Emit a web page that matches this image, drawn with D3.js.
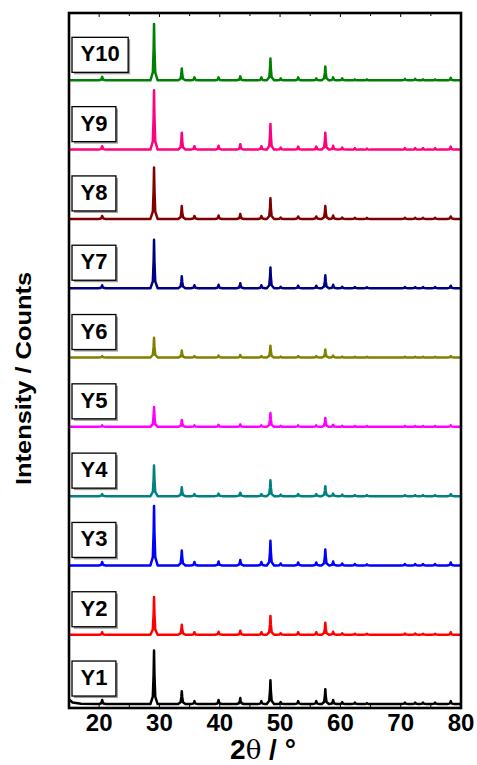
<!DOCTYPE html>
<html>
<head>
<meta charset="utf-8">
<script src="https://cdn.jsdelivr.net/npm/d3@7"></script>
<style>
  html, body { margin: 0; padding: 0; background: #fff; }
  svg { display: block; font-family: "Liberation Sans", Arial, sans-serif; }
</style>
</head>
<body>
<svg id="chart" width="477" height="765"></svg>
<script>
// ---- data ----
const seriesNames = ["Y1", "Y2", "Y3", "Y4", "Y5", "Y6", "Y7", "Y8", "Y9", "Y10"];
const seriesColors = ["#000000", "#ff0000", "#0000ff", "#008080", "#ff00ff",
                      "#808000", "#000080", "#800000", "#ff0080", "#008000"];
// peak positions (2θ, degrees)
const peakPos = [20.5, 29.1, 33.7, 35.8, 39.8, 43.4, 46.9, 48.4, 50.1, 53.0, 56.0,
                 57.5, 58.8, 60.3, 62.4, 64.4, 70.7, 72.4, 73.7, 75.7, 78.3];
// peak intensities (counts above baseline) for each sample
const Y1  = [400, 5400, 1300, 300, 400, 600, 300, 2400, 200, 300, 300, 1500, 400, 200, 150, 100, 150, 150, 150, 150, 300];
const Y2  = [250, 3800, 1000, 250, 300, 400, 250, 1900, 150, 250, 250, 1200, 300, 150, 100, 100, 120, 120, 100, 100, 250];
const Y3  = [350, 6000, 1500, 350, 400, 550, 350, 2500, 200, 300, 300, 1600, 400, 200, 150, 100, 150, 150, 150, 150, 300];
const Y4  = [200, 3100, 900, 200, 250, 350, 200, 1600, 150, 200, 200, 1000, 250, 150, 100, 100, 100, 100, 100, 100, 200];
const Y5  = [150, 2000, 700, 150, 200, 250, 150, 1400, 100, 150, 150, 900, 200, 100, 80, 80, 80, 80, 80, 80, 150];
const Y6  = [150, 2000, 700, 150, 200, 250, 150, 1200, 100, 150, 150, 800, 200, 100, 80, 80, 80, 80, 80, 80, 150];
const Y7  = [300, 4900, 1200, 300, 350, 500, 300, 2100, 150, 250, 250, 1300, 350, 150, 120, 100, 120, 120, 120, 120, 250];
const Y8  = [300, 5200, 1300, 300, 350, 500, 300, 2100, 150, 250, 250, 1300, 350, 150, 120, 100, 120, 120, 120, 120, 250];
const Y9  = [350, 6000, 1700, 350, 400, 550, 350, 2600, 200, 300, 300, 1700, 400, 200, 150, 100, 150, 150, 150, 150, 300];
const Y10 = [350, 5700, 1200, 300, 300, 400, 300, 2200, 200, 300, 200, 1400, 300, 200, 100, 100, 150, 150, 100, 100, 250];
const seriesValues = [Y1, Y2, Y3, Y4, Y5, Y6, Y7, Y8, Y9, Y10];
// low-angle background at 2θ = 15 (counts above baseline)
const bgStart = [450, 0, 0, 0, 0, 0, 0, 0, 0, 0];
const baseline0 = 400;     // baseline of Y1
const offsetStep = 7000;   // vertical stacking offset
const xTicks = [20, 30, 40, 50, 60, 70, 80];
const xMinorTicks = [15, 25, 35, 45, 55, 65, 75];
const xDomain = [15, 80];
const yDomain = [0, 70200];

// ---- layout ----
const svg = d3.select("#chart");
const L = 69, R = 461, T = 13, B = 708;
const x = d3.scaleLinear().domain(xDomain).range([L, R]);
const y = d3.scaleLinear().domain(yDomain).range([B, T]);

// build profile points from peaks
function profile(vals, bg, base) {
  const pts = [];
  pts.push([xDomain[0], base + bg]);
  if (bg > 0) { pts.push([15.6, base + bg * 0.35]); pts.push([17, base + bg * 0.08]); }
  peakPos.forEach((p, i) => {
    const h = vals[i];
    pts.push([p - 0.6, base]);
    pts.push([p - 0.2, base + 0.14 * h]);
    pts.push([p - 0.07, base + 0.55 * h]);
    pts.push([p, base + h]);
    pts.push([p + 0.07, base + 0.55 * h]);
    pts.push([p + 0.2, base + 0.14 * h]);
    pts.push([p + 0.6, base]);
  });
  pts.push([xDomain[1], base]);
  return pts;
}

const line = d3.line().x(d => x(d[0])).y(d => y(d[1]));

const plot = svg.append("g");
plot.append("clipPath").attr("id", "clip").append("rect")
  .attr("x", L).attr("y", T).attr("width", R - L).attr("height", B - T);

seriesNames.forEach((name, i) => {
  const base = baseline0 + i * offsetStep;
  plot.append("path")
    .attr("d", line(profile(seriesValues[i], bgStart[i], base)))
    .attr("fill", "none")
    .attr("stroke", seriesColors[i])
    .attr("stroke-width", 2.5)
    .attr("stroke-linejoin", "round")
    .attr("clip-path", "url(#clip)");
});

// labels in boxes
seriesNames.forEach((name, i) => {
  const base = baseline0 + i * offsetStep;
  const by = y(base);
  const g = svg.append("g");
  const t = g.append("text")
    .attr("x", 0).attr("y", 0)
    .attr("font-size", 22).attr("font-weight", "bold")
    .text(name);
  const w = t.node().getComputedTextLength();
  const bw = w + 17, bh = 35;
  const bx = 72, byTop = by - 43;
  g.insert("rect", "text")
    .attr("x", bx + 2).attr("y", byTop + 2).attr("width", bw).attr("height", bh)
    .attr("fill", "#9a9a9a");
  g.insert("rect", "text")
    .attr("x", bx).attr("y", byTop).attr("width", bw).attr("height", bh)
    .attr("fill", "#fff").attr("stroke", "#000").attr("stroke-width", 1.3);
  t.attr("x", bx + 8.5).attr("y", byTop + bh - 11);
});

// ticks (inward) top and bottom
const tickG = svg.append("g").attr("stroke", "#000").attr("stroke-width", 1);
xTicks.forEach(v => {
  tickG.append("line").attr("x1", x(v)).attr("x2", x(v)).attr("y1", B).attr("y2", B - 5);
  tickG.append("line").attr("x1", x(v)).attr("x2", x(v)).attr("y1", T).attr("y2", T + 4);
});
xMinorTicks.forEach(v => {
  tickG.append("line").attr("x1", x(v)).attr("x2", x(v)).attr("y1", B).attr("y2", B - 3);
  tickG.append("line").attr("x1", x(v)).attr("x2", x(v)).attr("y1", T).attr("y2", T + 3);
});

// frame
svg.append("rect")
  .attr("x", L).attr("y", T).attr("width", R - L).attr("height", B - T)
  .attr("fill", "none").attr("stroke", "#000").attr("stroke-width", 2.6);

// tick labels
svg.append("g").selectAll("text").data(xTicks).join("text")
  .attr("x", d => x(d)).attr("y", 731)
  .attr("text-anchor", "middle")
  .attr("font-size", 24).attr("font-weight", "bold")
  .text(d => d);

// x title
const xt = svg.append("text")
  .attr("x", (L + R) / 2 - 2).attr("y", 759)
  .attr("text-anchor", "middle")
  .attr("font-size", 28).attr("font-weight", "bold");
xt.append("tspan").text("2");
xt.append("tspan").attr("font-weight", "normal").attr("font-family", "DejaVu Serif, serif").attr("font-size", 26).text("θ");
xt.append("tspan").text(" / °");

// y title
svg.append("text")
  .attr("transform", "translate(31,378.5) rotate(-90)")
  .attr("text-anchor", "middle")
  .attr("font-size", 22).attr("font-weight", "bold")
  .attr("textLength", 213).attr("lengthAdjust", "spacingAndGlyphs")
  .text("Intensity / Counts");
</script>
</body>
</html>
